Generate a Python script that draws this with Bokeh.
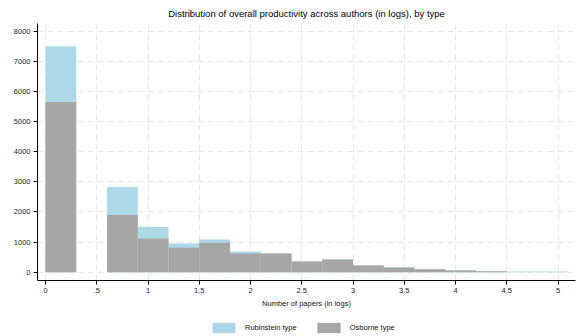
from bokeh.plotting import figure
from bokeh.layouts import column
from bokeh.models import Range1d, Legend, LegendItem, FixedTicker
from bokeh.embed import file_html
from bokeh.resources import INLINE

bin_width = 0.3
bin_left = [0.0, 0.3, 0.6, 0.9, 1.2, 1.5, 1.8, 2.1, 2.4, 2.7, 3.0, 3.3, 3.6, 3.9, 4.2, 4.5, 4.8]
rubinstein = [7500, 0, 2830, 1510, 950, 1090, 690, 620, 355, 420, 220, 155, 100, 55, 30, 25, 25]
osborne = [5650, 0, 1900, 1120, 810, 980, 620, 620, 355, 420, 220, 155, 100, 55, 30, 0, 0]
x_ticks = [0, 0.5, 1, 1.5, 2, 2.5, 3, 3.5, 4, 4.5, 5]
x_tick_labels = ["0", ".5", "1", "1.5", "2", "2.5", "3", "3.5", "4", "4.5", "5"]
y_ticks = [0, 1000, 2000, 3000, 4000, 5000, 6000, 7000, 8000]
series_names = ["Rubinstein type", "Osborne type"]
series_colors = ["#add8e6", "#a6a6a6"]
series_values = [rubinstein, osborne]

bin_right = [b + bin_width for b in bin_left]
font = "Liberation Sans"

p = figure(width=578, height=310, output_backend="svg", toolbar_location=None,
           x_range=Range1d(-0.078, 5.17), y_range=Range1d(-274, 8255),
           min_border_left=37, min_border_right=3, min_border_top=23, min_border_bottom=29,
           title="Distribution of overall productivity across authors (in logs), by type")
p.title.align = "center"
p.title.text_font = font
p.title.text_font_size = "9.5px"
p.title.text_font_style = "normal"
p.title.text_color = "black"
p.outline_line_color = None

for vals, col in zip(series_values, series_colors):
    p.quad(left=bin_left, right=bin_right, bottom=0, top=vals,
           fill_color=col, line_color=None)

for ax in (p.xaxis[0], p.yaxis[0]):
    ax.axis_line_color = "black"
    ax.axis_line_width = 1
    ax.major_tick_line_color = "black"
    ax.major_tick_in = 0
    ax.major_tick_out = 4
    ax.minor_tick_line_color = None
    ax.major_label_text_font = font
    ax.major_label_text_font_size = "7.5px"
    ax.major_label_text_color = "#222222"
    ax.major_label_standoff = 3

p.xaxis.ticker = FixedTicker(ticks=x_ticks)
p.xaxis.major_label_overrides = {t: l for t, l in zip(x_ticks, x_tick_labels)}
p.yaxis.ticker = FixedTicker(ticks=y_ticks)
p.xaxis.axis_label = "Number of papers (in logs)"
p.xaxis.axis_label_text_font = font
p.xaxis.axis_label_text_font_size = "7.5px"
p.xaxis.axis_label_text_font_style = "normal"
p.xaxis.axis_label_text_color = "#111111"
p.xaxis.axis_label_standoff = 3

p.xgrid.ticker = FixedTicker(ticks=x_ticks)
p.ygrid.ticker = FixedTicker(ticks=y_ticks)
for g in (p.xgrid[0], p.ygrid[0]):
    g.grid_line_color = "#e6e6e6"
    g.grid_line_dash = "6 4"
    g.grid_line_width = 1

# legend strip below the chart (its ranges keep the bars out of view)
lg = figure(width=578, height=26, output_backend="svg", toolbar_location=None,
            x_range=Range1d(100, 101), y_range=Range1d(-2, -1),
            min_border_left=0, min_border_right=0, min_border_top=0, min_border_bottom=0)
lg.axis.visible = False
lg.grid.visible = False
lg.outline_line_color = None
items = []
for name, vals, col in zip(series_names, series_values, series_colors):
    r = lg.quad(left=bin_left, right=bin_right, bottom=0, top=vals,
                fill_color=col, line_color=None)
    items.append(LegendItem(label=name, renderers=[r]))
legend = Legend(items=items, orientation="horizontal", location=(172, 2),
                glyph_width=29, glyph_height=13, label_text_font=font,
                label_text_font_size="7.5px", label_text_color="#111111",
                label_standoff=7, spacing=17, label_height=13,
                padding=0, margin=0, border_line_color=None,
                background_fill_alpha=0)
lg.add_layout(legend, "center")

open("out.html", "w").write(file_html(column(p, lg, spacing=0), INLINE))
